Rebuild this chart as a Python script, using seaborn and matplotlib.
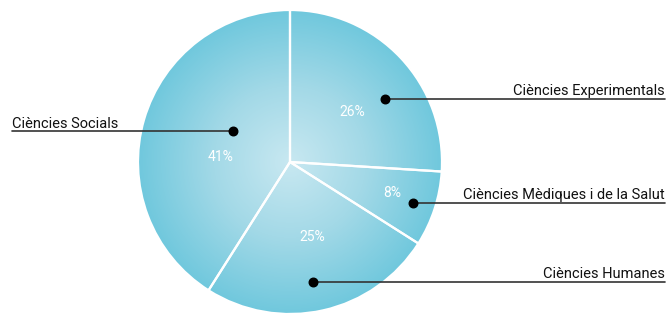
import numpy as np
import matplotlib
matplotlib.use("Agg")
import matplotlib.pyplot as plt
import seaborn as sns
from matplotlib.colors import LinearSegmentedColormap
from matplotlib.patches import Circle

# dades
categories = ['Ciències Experimentals', 'Ciències Mèdiques i de la Salut',
              'Ciències Humanes', 'Ciències Socials']
values = [26, 8, 25, 41]

# posició de les etiquetes (px, origen a baix-esquerra)
dot_x = [385, 413, 313, 233]
line_y = [214, 110, 31, 182]
text_side = ['right', 'right', 'right', 'left']
pct_dist = [0.525, 0.70, 0.514, 0.455]
pct_angle = [38.9, -16.9, -73.6, 175.9]

sns.set_theme(style="white")
plt.rcParams['font.family'] = ['Roboto', 'DejaVu Sans']

W, H = 666, 313
fig = plt.figure(figsize=(W / 100, H / 100), dpi=100)
ax = fig.add_axes([0, 0, 1, 1])
ax.set_xlim(0, W)
ax.set_ylim(0, H)
ax.axis('off')

cx, cy, R = 290, 151, 152

# fons en degradat radial
cmap = LinearSegmentedColormap.from_list('blau', ['#c8e8f1', '#a3d9e7', '#70c8dd'])
xx, yy = np.meshgrid(np.linspace(cx - R, cx + R, 400), np.linspace(cy - R, cy + R, 400))
rr = np.sqrt((xx - cx) ** 2 + (yy - cy) ** 2) / R
img = ax.imshow(rr, cmap=cmap, vmin=0, vmax=1, origin='lower',
                extent=(cx - R, cx + R, cy - R, cy + R), zorder=1, interpolation='bilinear')
clip = Circle((cx, cy), R, transform=ax.transData)
img.set_clip_path(clip)

wedges, _ = ax.pie(values, startangle=90, counterclock=False, center=(cx, cy), radius=R,
                   wedgeprops=dict(facecolor='none', edgecolor='white', linewidth=1.6))
for w in wedges:
    w.set_zorder(2)
ax.set_xlim(0, W)
ax.set_ylim(0, H)
ax.set_aspect('equal')

# percentatges
for v, d, a in zip(values, pct_dist, pct_angle):
    ang = np.deg2rad(a)
    ax.text(cx + d * R * np.cos(ang), cy + d * R * np.sin(ang), f'{v}%',
            color='white', fontsize=10, ha='center', va='center', zorder=3)

# etiquetes amb línia i punt
for cat, dx, ly, side in zip(categories, dot_x, line_y, text_side):
    if side == 'right':
        x_end = 665
        ax.plot([dx, x_end], [ly, ly], color='#333333', lw=1.2, zorder=4)
        ax.text(x_end, ly + 3.5, cat, ha='right', va='baseline', fontsize=10.5,
                color='#111111', zorder=4)
    else:
        x_end = 12
        ax.plot([x_end, dx], [ly, ly], color='#333333', lw=1.2, zorder=4)
        ax.text(x_end, ly + 3.5, cat, ha='left', va='baseline', fontsize=10.5,
                color='#111111', zorder=4)
    ax.scatter([dx], [ly], s=38, color='black', zorder=5)

fig.savefig('out.png', dpi=100)
